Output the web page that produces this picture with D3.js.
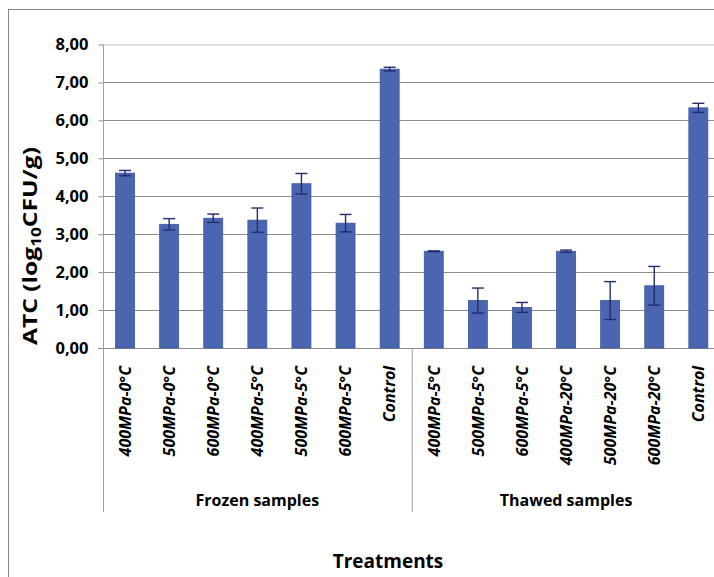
<!DOCTYPE html>
<html>
<head>
<meta charset="utf-8">
<script src="https://cdn.jsdelivr.net/npm/d3@7"></script>
<style>
  html, body { margin: 0; padding: 0; background: #ffffff; }
  svg { display: block; }
  text { font-family: "Open Sans", Lato, sans-serif; }
</style>
</head>
<body>
<svg id="chart" width="714" height="577"></svg>
<script>
// ---- data ----
const categories = [
  "400MPa-0°C", "500MPa-0°C", "600MPa-0°C", "400MPa-5°C", "500MPa-5°C", "600MPa-5°C", "Control",
  "400MPa-5°C", "500MPa-5°C", "600MPa-5°C", "400MPa-20°C", "500MPa-20°C", "600MPa-20°C", "Control"
];
const groups = ["Frozen samples", "Thawed samples"];
const groupSizes = [7, 7];
const values = [4.61, 3.26, 3.42, 3.37, 4.33, 3.29, 7.35,
                2.55, 1.25, 1.07, 2.55, 1.25, 1.64, 6.33];
const errors = [0.07, 0.15, 0.11, 0.32, 0.27, 0.23, 0.05,
                0.01, 0.33, 0.13, 0.03, 0.50, 0.51, 0.12];
const yTicks = [0, 1, 2, 3, 4, 5, 6, 7, 8];
const yTitle = ["ATC (log", "10", "CFU/g)"];
const xTitle = "Treatments";

// ---- layout ----
(function () {
const svg = d3.select("#chart");
const pL = 103, pR = 720.4, pT = 44.5, pB = 348;
const groupBottom = 512;

const x = d3.scaleBand().domain(d3.range(categories.length)).range([pL, pR]).padding(0);
const barW = x.bandwidth() * 0.43;
const y = d3.scaleLinear().domain([0, 8]).range([pB, pT]);

// outer frame
svg.append("rect").attr("x", 8.5).attr("y", 9.5).attr("width", 760).attr("height", 620)
  .attr("fill", "none").attr("stroke", "#8a8a8a").attr("stroke-width", 1);

// plot area border (top)
svg.append("line").attr("x1", pL).attr("x2", pR).attr("y1", pT + 0.5).attr("y2", pT + 0.5)
  .attr("stroke", "#bdbdbd");

// gridlines
svg.append("g").selectAll("line").data(yTicks.filter(d => d > 0 && d < 8)).join("line")
  .attr("x1", pL).attr("x2", pR)
  .attr("y1", d => Math.round(y(d)) + 0.5).attr("y2", d => Math.round(y(d)) + 0.5)
  .attr("stroke", "#8c8c8c").attr("stroke-width", 1);

// y axis
const yAxis = d3.axisLeft(y).tickValues(yTicks).tickSize(5).tickPadding(10)
  .tickFormat(d => d3.format(".2f")(d).replace(".", ","));
const gy = svg.append("g").attr("transform", `translate(${pL + 0.5},0)`).call(yAxis);
gy.select(".domain").remove();
gy.selectAll(".tick line").attr("stroke", "#8c8c8c");
gy.selectAll(".tick text").attr("font-size", 16.5).attr("font-weight", "bold").attr("fill", "#000")
  .attr("font-family", "'Open Sans', sans-serif");
// y axis line
svg.append("line").attr("x1", pL + 0.5).attr("x2", pL + 0.5).attr("y1", pT).attr("y2", pB)
  .attr("stroke", "#a0a0a0");

// x axis line
svg.append("line").attr("x1", pL - 5).attr("x2", pR).attr("y1", pB + 0.5).attr("y2", pB + 0.5)
  .attr("stroke", "#8c8c8c");

// group separators
let acc = 0;
const bounds = [0];
groupSizes.forEach(s => { acc += s; bounds.push(acc); });
svg.append("g").selectAll("line").data(bounds).join("line")
  .attr("x1", i => (i < categories.length ? x(i) : pR) + 0.5)
  .attr("x2", i => (i < categories.length ? x(i) : pR) + 0.5)
  .attr("y1", pB).attr("y2", groupBottom)
  .attr("stroke", "#a0a0a0");

// bars
svg.append("g").selectAll("rect").data(values).join("rect")
  .attr("x", (d, i) => x(i) + (x.bandwidth() - barW) / 2)
  .attr("y", d => y(d))
  .attr("width", barW)
  .attr("height", d => pB - y(d))
  .attr("fill", "#4a66b1")
  .attr("stroke", "#3b55a0").attr("stroke-width", 0.8);

// error bars
const eg = svg.append("g").attr("stroke", "#232c6e").attr("stroke-width", 1.4);
values.forEach((v, i) => {
  const cx = x(i) + x.bandwidth() / 2;
  const y1 = y(v + errors[i]), y2 = y(v - errors[i]);
  eg.append("line").attr("x1", cx).attr("x2", cx).attr("y1", y1).attr("y2", y2);
  eg.append("line").attr("x1", cx - 6).attr("x2", cx + 6).attr("y1", y1).attr("y2", y1);
  eg.append("line").attr("x1", cx - 6).attr("x2", cx + 6).attr("y1", y2).attr("y2", y2);
});

// x category labels
svg.append("g").selectAll("text").data(categories).join("text")
  .attr("transform", (d, i) => `translate(${x(i) + x.bandwidth() / 2},366) rotate(-90)`)
  .attr("dy", "0.36em")
  .attr("text-anchor", "end")
  .attr("font-size", 16).attr("font-weight", "bold").attr("font-style", "italic")
  .attr("fill", "#000")
  .text(d => d);

// group labels
svg.append("g").selectAll("text").data(groups).join("text")
  .attr("x", (d, gi) => {
    const a = x(bounds[gi]);
    const b = bounds[gi + 1] < categories.length ? x(bounds[gi + 1]) : pR;
    return (a + b) / 2;
  })
  .attr("y", 506)
  .attr("text-anchor", "middle")
  .attr("font-size", 16).attr("font-weight", "bold").attr("fill", "#000")
  .text(d => d);

// x title
svg.append("text").attr("x", 388).attr("y", 568).attr("text-anchor", "middle")
  .attr("font-size", 19).attr("font-weight", "bold").attr("fill", "#000").text(xTitle);

// y title
const yt = svg.append("text").attr("transform", "translate(37,246) rotate(-90)")
  .attr("text-anchor", "middle").attr("font-size", 20).attr("font-weight", "bold").attr("fill", "#000")
  .attr("textLength", 198).attr("lengthAdjust", "spacingAndGlyphs");
yt.append("tspan").text(yTitle[0]);
yt.append("tspan").attr("font-size", 14).attr("dy", 4).text(yTitle[1]);
yt.append("tspan").attr("dy", -4).text(yTitle[2]);
})();
</script>
</body>
</html>
